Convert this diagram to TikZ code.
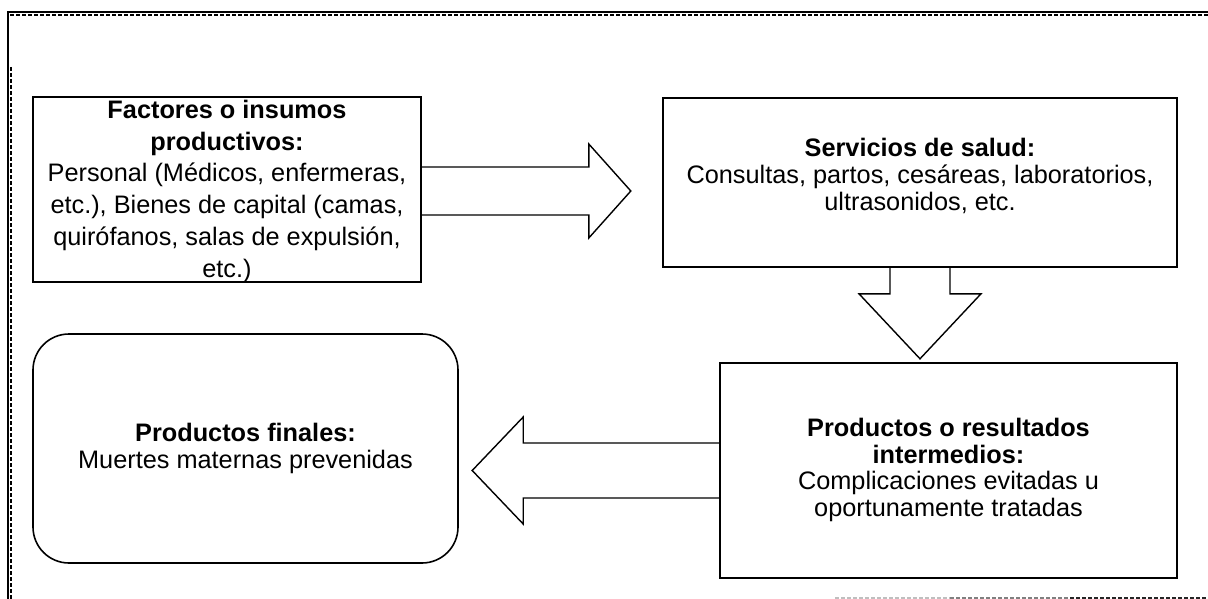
\documentclass[tikz,border=0pt]{standalone}
\usepackage{fontspec}
\setmainfont{Liberation Sans}
\usetikzlibrary{calc}
\begin{document}
\begin{tikzpicture}[x=1pt, y=-1pt,
  box/.style={draw=black, line width=1.6pt, inner sep=0pt},
  endbox/.style={box, rounded corners=36pt},
  txt/.style={inner sep=0pt, align=center, anchor=north},
  blockarrow/.style={draw=black, line width=1.4pt, line join=miter},
  framesolid/.style={line width=1.5pt},
  framedash/.style={line width=1.2pt, dash pattern=on 4pt off 2pt}]
\useasboundingbox (0,0) rectangle (1208,599);

% outer frame
\draw[framesolid] (8,599) -- (8,12) -- (1208,12);
\draw[framedash] (10,15) -- (1208,15);
\draw[framedash] (11,67) -- (11,599);
\draw[framedash, black!25] (835,598) -- (950,598);
\draw[framedash, black!50] (950,598) -- (1070,598);
\draw[framedash, black!85] (1070,598) -- (1208,598);

% boxes
\node[box, minimum width=388pt, minimum height=185pt] (fact) at (227,189.5) {};
\node[box, minimum width=514pt, minimum height=169pt] (serv) at (920,182.5) {};
\node[box, minimum width=457pt, minimum height=215pt] (inter) at (948.5,470.5) {};
\node[endbox, minimum width=425pt, minimum height=229pt] (final) at (245.5,448.5) {};

% box texts
\node[txt, font=\fontsize{25.3}{31.8}\selectfont] (factT) at ($(fact.north)+(0,3.5)$)
  {\textbf{Factores o insumos}\\\textbf{productivos:}\\Personal (Médicos, enfermeras,\\etc.), Bienes de capital (camas,\\quirófanos, salas de expulsión,\\etc.)};
\node[txt, font=\fontsize{25.3}{27}\selectfont] (servT) at ($(serv.north)+(0,40.8)$)
  {\textbf{Servicios de salud:}\\Consultas, partos, cesáreas, laboratorios,\\ultrasonidos, etc.};
\node[txt, font=\fontsize{25.3}{26.7}\selectfont] (interT) at ($(inter.north)+(0,55.8)$)
  {\textbf{Productos o resultados}\\\textbf{intermedios:}\\Complicaciones evitadas u\\oportunamente tratadas};
\node[txt, font=\fontsize{25.3}{27}\selectfont] (finalT) at ($(final.north)+(0,89.8)$)
  {\textbf{Productos finales:}\\Muertes maternas prevenidas};

% block arrows between the boxes
\draw[blockarrow] ($(fact.east)+(0,-22.5)$) -- ++(167,0) -- ++(0,-23) -- ++(42,47)
  -- ++(-42,47) -- ++(0,-23) -- ($(fact.east)+(0,25.5)$);
\draw[blockarrow] ($(serv.south)+(-30,0)$) -- ++(0,26) -- ++(-31,0) -- ++(61,65)
  -- ++(61,-65) -- ++(-31,0) -- ++(0,-26);
\draw[blockarrow] ($(inter.west)+(0,-27.5)$) -- ++(-196,0) -- ++(0,-26) -- ++(-51,53.5)
  -- ++(51,53.5) -- ++(0,-26) -- ($(inter.west)+(0,27.5)$);
\end{tikzpicture}
\end{document}
